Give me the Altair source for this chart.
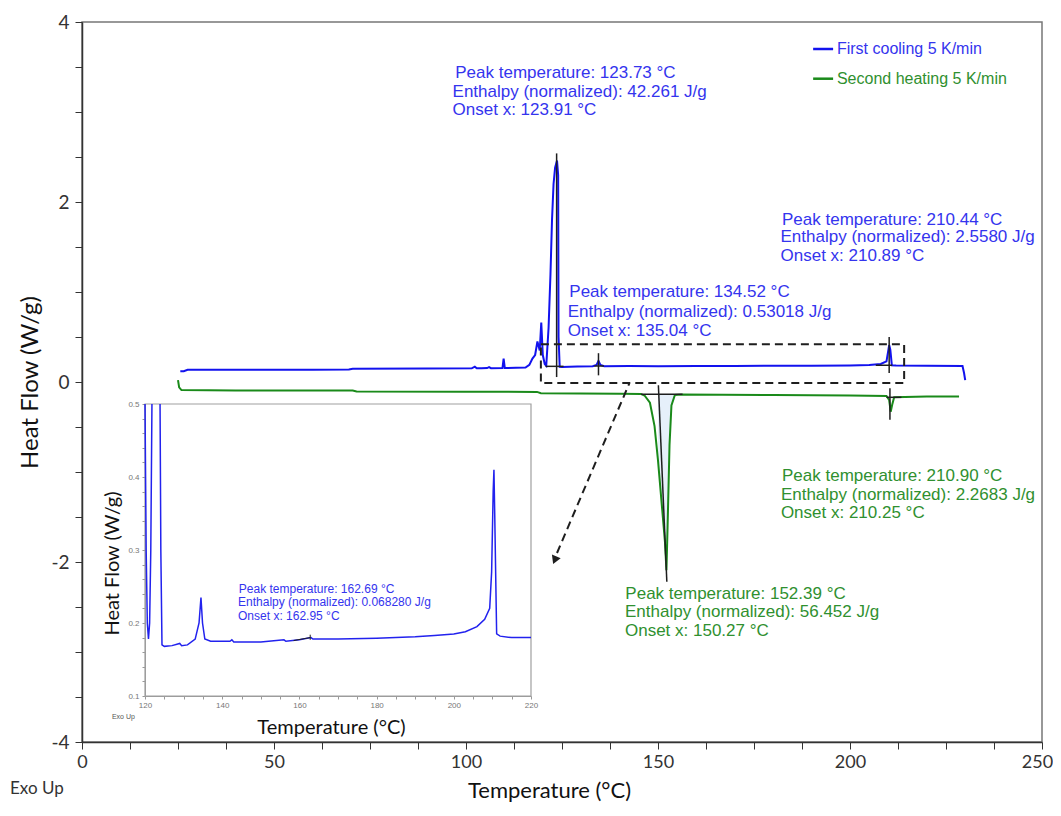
import altair as alt
import pandas as pd

# ---------------- data ----------------
# First cooling 5 K/min (blue)
blue_x = [25.6, 26.5, 27.5, 40.0, 60.0, 69.5, 70.5, 90.0, 101.5, 102.3, 102.8, 104.0, 105.5, 106.0, 106.5,
          109.5, 109.8, 110.1, 113.0, 115.5, 116.5, 117.3, 118.0, 118.6, 119.2, 119.6, 120.0, 120.5, 120.9,
          121.5, 122.0, 122.4, 122.8, 123.2, 123.7, 124.0, 124.1, 124.4, 125.0, 129.0, 133.0, 134.0, 134.5,
          135.0, 136.0, 142.5, 150.0, 160.0, 170.0, 180.0, 190.0, 200.0, 205.0, 208.0, 209.5, 210.2, 210.5,
          210.9, 212.0, 220.0, 229.3, 229.7, 230.0]
blue_y = [0.12, 0.12, 0.135, 0.135, 0.137, 0.138, 0.148, 0.15, 0.152, 0.17, 0.153, 0.152, 0.155, 0.165, 0.153,
          0.155, 0.26, 0.156, 0.157, 0.16, 0.19, 0.26, 0.30, 0.45, 0.35, 0.66, 0.30, 0.20, 0.18,
          0.60, 1.20, 1.80, 2.20, 2.38, 2.46, 2.30, 0.50, 0.17, 0.168, 0.172, 0.175, 0.19, 0.235,
          0.19, 0.175, 0.177, 0.175, 0.178, 0.178, 0.18, 0.181, 0.184, 0.19, 0.20, 0.23, 0.41, 0.36,
          0.185, 0.182, 0.18, 0.178, 0.10, 0.02]

# Second heating 5 K/min (green)
green_x = [25.0, 25.3, 25.9, 40.0, 70.5, 71.5, 100.0, 118.5, 119.5, 140.0, 145.5, 146.5, 147.9, 149.1, 150.0,
           150.9, 151.8, 152.2, 152.5, 153.0, 153.5, 154.4, 156.0, 180.0, 200.0, 209.5, 210.2, 210.6, 211.0,
           211.5, 220.0, 228.4]
green_y = [0.02, -0.06, -0.09, -0.095, -0.095, -0.105, -0.108, -0.11, -0.125, -0.13, -0.132, -0.15, -0.23, -0.49, -0.87,
           -1.32, -1.77, -2.09, -1.60, -0.70, -0.26, -0.145, -0.14, -0.145, -0.15, -0.155, -0.20, -0.33, -0.25,
           -0.17, -0.16, -0.16]

# Inset: first cooling, zoomed (120-220 °C, 0.1-0.5 W/g)
inset_x = [120.0, 120.3, 120.6, 120.9, 121.2, 121.5, 121.8,
           123.9, 124.1, 124.4, 125.0, 127.0, 129.0, 129.5, 131.0, 133.0, 134.0, 134.5, 134.9, 135.5, 137.0,
           142.0, 142.5, 143.0, 150.0, 156.0, 156.5, 160.0, 163.0, 163.5, 170.0, 180.0, 190.0, 195.0, 200.0,
           203.0, 206.0, 208.0, 209.3, 209.8, 210.2, 210.4, 210.6, 210.9, 211.1, 212.0, 215.0, 220.0]
inset_y = [0.5, 0.3, 0.2, 0.178, 0.2, 0.3, 0.5,
           0.5, 0.3, 0.17, 0.168, 0.169, 0.172, 0.169, 0.17, 0.178, 0.2, 0.235, 0.2, 0.178, 0.175,
           0.175, 0.177, 0.174, 0.174, 0.177, 0.175, 0.177, 0.18, 0.178, 0.178, 0.179, 0.181, 0.183, 0.185,
           0.188, 0.195, 0.205, 0.22, 0.27, 0.38, 0.41, 0.35, 0.25, 0.185, 0.182, 0.18, 0.18]
inset_seg = [1] * 7 + [2] * 41

# Peak annotations
ann_text = [
    "Peak temperature: 123.73 °C", "Enthalpy (normalized): 42.261 J/g", "Onset x: 123.91 °C",
    "Peak temperature: 210.44 °C", "Enthalpy (normalized): 2.5580 J/g", "Onset x: 210.89 °C",
    "Peak temperature: 134.52 °C", "Enthalpy (normalized): 0.53018 J/g", "Onset x: 135.04 °C",
    "Peak temperature: 210.90 °C", "Enthalpy (normalized): 2.2683 J/g", "Onset x: 210.25 °C",
    "Peak temperature: 152.39 °C", "Enthalpy (normalized): 56.452 J/g", "Onset x: 150.27 °C",
]
ann_x = [97.2, 96.5, 96.5, 182.3, 181.9, 181.9, 126.9, 126.5, 126.5, 182.3, 182.0, 182.0, 141.5, 141.4, 141.4]
ann_y = [3.43, 3.22, 3.02, 1.80, 1.61, 1.40, 1.00, 0.78, 0.57, -1.04, -1.25, -1.46, -2.35, -2.56, -2.77]
ann_series = ["blue"] * 9 + ["green"] * 6

# Integration / peak marker segments (black)
mark_x = [123.6, 120.7, 134.5, 133.4, 210.2, 206.7, 150.1, 145.6, 210.4, 209.5]
mark_y = [0.055, 0.174, 0.074, 0.178, 0.10, 0.186, -0.037, -0.137, -0.07, -0.17]
mark_x2 = [123.6, 125.4, 134.5, 135.9, 210.2, 211.0, 152.3, 156.4, 210.4, 213.4]
mark_y2 = [2.54, 0.174, 0.32, 0.178, 0.50, 0.186, -2.22, -0.137, -0.42, -0.17]

# Zoom box and arrow
box_x, box_x2, box_y, box_y2 = [119.5], [214.1], [-0.012], [0.42]
arrow_x = [142.5, 123.7]
arrow_y = [-0.018, -1.90]
head_x, head_y = [123.1], [-1.98]

# Legend
leg_labels = ["First cooling 5 K/min", "Second heating 5 K/min"]
leg_y = [3.70, 3.37]
leg_series = ["blue", "green"]

# Inset annotation
inset_ann = ["Peak temperature: 162.69 °C", "Enthalpy (normalized): 0.068280 J/g", "Onset x: 162.95 °C"]
inset_ann_x = [144.3, 144.1, 144.1]
inset_ann_y = [0.2466, 0.229, 0.21]
inset_mark_x = [158.5, 162.8]
inset_mark_y = [0.176, 0.177]
inset_mark_x2 = [162.8, 162.8]
inset_mark_y2 = [0.18, 0.184]

# ---------------- styling ----------------
LINE_COL = {"blue": "#1212ee", "green": "#1a8a1a"}
TXT_COL = {"blue": "#3434ee", "green": "#2f902f"}
BLACK = "#1e1e1e"

main_xs = alt.Scale(domain=[0, 250], nice=False, zero=False)
main_ys = alt.Scale(domain=[-4, 4], nice=False, zero=False)

main_x_axis = alt.Axis(
    values=[i * 12.5 for i in range(21)],
    labelExpr="datum.value % 50 == 0 ? '' + datum.value : ''",
    labelOffset={"condition": {"test": "datum.value == 250", "value": -5}, "value": 0},
    grid=False, tickSize=7, tickColor="#333", domainColor="#333", domainWidth=1.5,
    labelFont="Lato", labelFontSize=18, labelColor="#333", labelPadding=4, labelFlush=False,
    title="Temperature (°C)", titleFont="Lato", titleFontSize=22, titleFontWeight="normal",
    titleColor="#111", titleX=467, titleY=48, titleBaseline="middle", titleAlign="center",
)
main_y_axis = alt.Axis(
    values=[-4 + 0.5 * i for i in range(17)],
    labelExpr="datum.value % 2 == 0 ? '' + datum.value : ''",
    grid=False, tickSize=7, tickColor="#333", domainColor="#333", domainWidth=1.5,
    labelFont="Lato", labelFontSize=19, labelColor="#333", labelPadding=6, labelFlush=False,
    title="Heat Flow (W/g)", titleFont="Lato", titleFontSize=24, titleFontWeight="normal",
    titleColor="#111", titleX=-52, titleY=360, titleBaseline="middle", titleAlign="center",
)


def MX(f="x"):
    return alt.X(f"{f}:Q", scale=main_xs, axis=main_x_axis)


def MY(f="y"):
    return alt.Y(f"{f}:Q", scale=main_ys, axis=main_y_axis)


curves = pd.concat([
    pd.DataFrame({"x": blue_x, "y": blue_y, "s": "blue"}),
    pd.DataFrame({"x": green_x, "y": green_y, "s": "green"}),
])
green_df = pd.DataFrame({"x": green_x, "y": green_y})

fill = alt.Chart(green_df).transform_filter(
    (alt.datum.x >= 150.0) & (alt.datum.x <= 154.4)
).mark_area(color="#e6f0fa").encode(x=MX(), y=MY(), y2=alt.datum(-0.137))

lines = alt.Chart(curves).mark_line(strokeWidth=2).encode(
    x=MX(), y=MY(),
    color=alt.Color("s:N", scale=alt.Scale(domain=list(LINE_COL), range=list(LINE_COL.values())), legend=None),
    detail="s:N",
    order=alt.Order("x:Q"),
)

marks_df = pd.DataFrame({"x": mark_x, "y": mark_y, "x2": mark_x2, "y2": mark_y2})
markers = alt.Chart(marks_df).mark_rule(color=BLACK, strokeWidth=1.5).encode(
    x=MX(), y=MY(), x2="x2:Q", y2="y2:Q")

box = alt.Chart(pd.DataFrame({"x": box_x, "x2": box_x2, "y": box_y, "y2": box_y2})).mark_rect(
    fillOpacity=0, stroke=BLACK, strokeWidth=2, strokeDash=[8, 5]
).encode(x=MX(), x2="x2:Q", y=MY(), y2="y2:Q")

arrow = alt.Chart(pd.DataFrame({"x": arrow_x, "y": arrow_y})).mark_line(
    color=BLACK, strokeWidth=2, strokeDash=[8, 5]).encode(x=MX(), y=MY())
head = alt.Chart(pd.DataFrame({"x": head_x, "y": head_y})).mark_point(
    shape="triangle-down", filled=True, size=90, angle=22.8, color=BLACK, opacity=1
).encode(x=MX(), y=MY())

ann_df = pd.DataFrame({"x": ann_x, "y": ann_y, "t": ann_text,
                       "c": [TXT_COL[s] for s in ann_series]})
ann = alt.Chart(ann_df).mark_text(
    align="left", baseline="middle", font="Liberation Sans", fontSize=17
).encode(x=MX(), y=MY(), text="t:N", color=alt.Color("c:N", scale=None))

leg_df = pd.DataFrame({"x": [190.4] * 2, "x2": [195.6] * 2, "y": leg_y, "tx": [196.6] * 2,
                       "t": leg_labels, "lc": [LINE_COL[s] for s in leg_series],
                       "tc": [TXT_COL[s] for s in leg_series]})
leg_lines = alt.Chart(leg_df).mark_rule(strokeWidth=2.5).encode(
    x=MX(), x2="x2:Q", y=MY(), color=alt.Color("lc:N", scale=None))
leg_text = alt.Chart(leg_df).mark_text(
    align="left", baseline="middle", font="Liberation Sans", fontSize=16
).encode(x=MX("tx"), y=MY(), text="t:N", color=alt.Color("tc:N", scale=None))

extra_df = pd.DataFrame({"x": [-18.75, 7.8], "y": [-4.52, -3.72], "t": ["Exo Up", "Exo Up"]})
exo_big = alt.Chart(extra_df.iloc[[0]]).mark_text(
    align="left", baseline="middle", font="Lato", fontSize=17, color="#333"
).encode(x=MX(), y=MY(), text="t:N")
exo_small = alt.Chart(extra_df.iloc[[1]]).mark_text(
    align="left", baseline="middle", font="Liberation Sans", fontSize=7, color="#555"
).encode(x=MX(), y=MY(), text="t:N")

main = alt.layer(fill, lines, markers, box, arrow, head, ann, leg_lines, leg_text, exo_big, exo_small)

# ---------------- inset ----------------
ixs = alt.Scale(domain=[120, 220], range=[63, 449], nice=False, zero=False)
iys = alt.Scale(domain=[0.1, 0.5], range=[674, 382], nice=False, zero=False, clamp=True)
inset_x_axis = alt.Axis(
    orient="bottom", offset=-46, values=[120 + 5 * i for i in range(21)],
    labelExpr="datum.value % 20 == 0 ? datum.label : ''",
    grid=False, tickSize=3, tickColor="#999", domainColor="#999",
    labelFont="Liberation Sans", labelFontSize=8, labelColor="#777", labelPadding=2, labelFlush=False,
    title="Temperature (°C)", titleFont="Lato", titleFontSize=20, titleFontWeight="normal",
    titleColor="#111", titleX=249, titleY=31, titleBaseline="middle", titleAlign="center",
)
inset_y_axis = alt.Axis(
    orient="left", offset=-63, values=[round(0.1 + 0.02 * i, 2) for i in range(21)],
    labelExpr="abs(datum.value * 10 - round(datum.value * 10)) < 0.001 ? format(datum.value, '.1f') : ''",
    grid=False, tickSize=3, tickColor="#999", domainColor="#999",
    labelFont="Liberation Sans", labelFontSize=8, labelColor="#777", labelPadding=3, labelFlush=False,
    title="Heat Flow (W/g)", titleFont="Lato", titleFontSize=20, titleFontWeight="normal",
    titleColor="#111", titleX=-33, titleY=541, titleBaseline="middle", titleAlign="center",
)


def IX(f="ix"):
    return alt.X(f"{f}:Q", scale=ixs, axis=inset_x_axis)


def IY(f="iy"):
    return alt.Y(f"{f}:Q", scale=iys, axis=inset_y_axis)


inset_df = pd.DataFrame({"ix": inset_x, "iy": inset_y, "seg": inset_seg})
inset_line = alt.Chart(inset_df).mark_line(color="#2222ee", strokeWidth=1.5).encode(
    x=IX(), y=IY(), detail="seg:N", order=alt.Order("ix:Q"))

frame = alt.Chart(pd.DataFrame({"ix": [120], "ix2": [220], "iy": [0.1], "iy2": [0.5]})).mark_rect(
    fillOpacity=0, stroke="#a0a0a0", strokeWidth=1.2
).encode(x=IX(), x2="ix2:Q", y=IY(), y2="iy2:Q")

inset_ann_df = pd.DataFrame({"ix": inset_ann_x, "iy": inset_ann_y, "t": inset_ann})
inset_text = alt.Chart(inset_ann_df).mark_text(
    align="left", baseline="middle", font="Liberation Sans", fontSize=12, color="#3434ee"
).encode(x=IX(), y=IY(), text="t:N")

inset_marks_df = pd.DataFrame({"ix": inset_mark_x, "iy": inset_mark_y,
                               "ix2": inset_mark_x2, "iy2": inset_mark_y2})
inset_marks = alt.Chart(inset_marks_df).mark_rule(color=BLACK, strokeWidth=1).encode(
    x=IX(), y=IY(), x2="ix2:Q", y2="iy2:Q")

inset = alt.layer(frame, inset_line, inset_marks, inset_text)

chart = alt.layer(main, inset).resolve_scale(x="independent", y="independent").properties(
    width=960, height=720,
    padding={"left": 74, "top": 14, "right": 11, "bottom": 60},
    autosize=alt.AutoSizeParams(type="none"),
).configure_view(stroke="#777", strokeWidth=1.5)

chart.save("out.html", embed_options={"renderer": "svg", "actions": False})
